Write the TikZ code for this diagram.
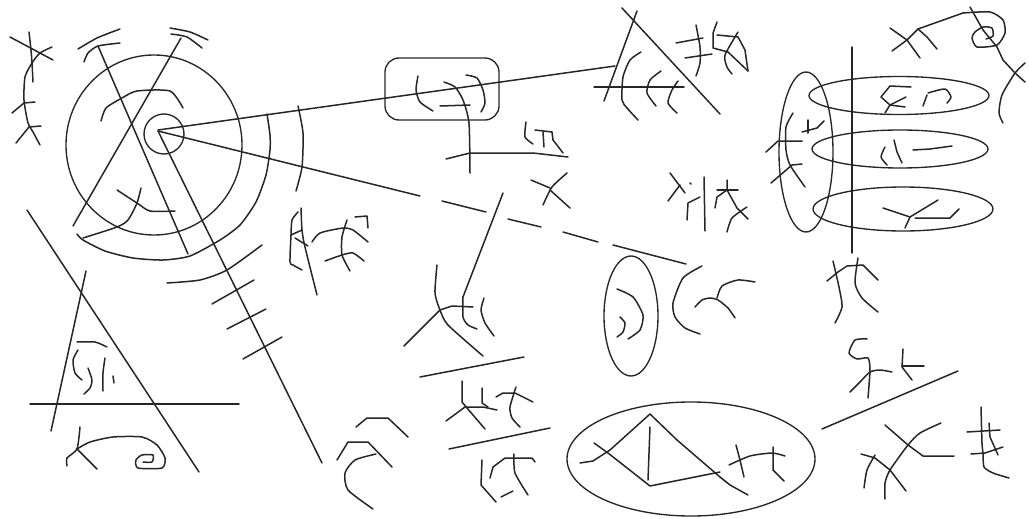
\documentclass[tikz,border=0pt]{standalone}
\usepackage{tikz}
\tikzset{
  ink/.style={line width=1.5pt, color=black!85, line cap=round, line join=round},
  frame/.style={ink, line width=1.35pt},
}
\newcommand{\wob}[1]{\draw[ink] plot[smooth, tension=0.4] coordinates {#1};}
\newcommand{\pol}[1]{\draw[ink] plot coordinates {#1};}
\newcommand{\stk}[2]{\draw[ink] #1 -- #2;}
\begin{document}
\begin{tikzpicture}[x=1pt, y=-1pt]
  \useasboundingbox (0,0) rectangle (1029,519);
  % Top left scribble
  \stk{(10,37)}{(53,60)}
  \wob{(29,32) (31,50) (32,63) (33,82)}
  \wob{(52,47) (40,53) (32,63) (25,77) (24,100) (28,123) (33,132) (40,145)}
  \pol{(12,113) (24,103) (35,102)}
  \pol{(16,143) (29,127) (41,126)}
  % Rings
  \draw[frame] (154,145) ellipse [x radius=88, y radius=90];
  \draw[frame] (164,134) circle [radius=20];
  \wob{(77,234) (83,240) (105,251) (133,258) (163,260) (190,256) (220,240) (240,225) (256,202) (266,175) (270,150) (270,135) (267,114)}
  \wob{(298,106) (303,133) (302,167) (296,191)}
  \wob{(167,283) (200,280) (227,270) (262,245)}
  \wob{(78,49) (97,38) (120,29)}
  \wob{(84,62) (88,53) (98,46) (120,43)}
  \wob{(170,28) (190,32) (208,40)}
  \wob{(171,34) (187,37) (202,48)}
  % Lines through the rings
  \stk{(98,46)}{(188,254)}
  \stk{(181,38)}{(73,226)}
  \stk{(158,131)}{(322,463)}
  \stk{(158,130)}{(615,66)}
  \stk{(158,131)}{(420,196)}
  \stk{(442,201)}{(486,212)}
  \stk{(508,219)}{(541,227)}
  \stk{(563,232)}{(598,242)}
  \stk{(613,245)}{(686,264)}
  \wob{(101,121) (106,108) (122,98) (137,91) (170,91) (183,108)}
  \wob{(117,190) (137,203) (150,211) (175,211)}
  \wob{(141,188) (137,203) (128,220) (117,227) (83,238)}
  \stk{(212,304)}{(254,280)}
  \stk{(227,329)}{(266,309)}
  \stk{(243,359)}{(282,337)}
  % Bottom left triangle
  \stk{(27,210)}{(199,472)}
  \stk{(86,271)}{(51,431)}
  \stk{(30,404)}{(239,404)}
  \wob{(77,342) (95,342) (107,347)}
  \wob{(78,350) (73,360) (75,373) (82,380)}
  \wob{(88,368) (92,380) (90,388) (84,394)}
  \wob{(105,358) (103,373) (103,391)}
  \stk{(113,376)}{(114,383)}
  \wob{(80,427) (77,449) (67,458) (67,466)}
  \stk{(77,449)}{(97,469)}
  \wob{(77,449) (90,442) (113,437) (142,437) (157,445) (165,458) (162,468) (138,468) (136,460) (142,455) (153,455) (152,462) (143,462)}
  % Scribble right of the rings
  \wob{(301,208) (302,230) (305,247) (317,295)}
  \wob{(298,212) (292,220) (291,235) (290,262) (293,265) (302,270)}
  \stk{(291,235)}{(302,230)}
  \stk{(295,238)}{(308,246)}
  \wob{(312,242) (320,233) (343,228) (353,230) (368,242)}
  \wob{(347,220) (342,237) (342,255) (350,271)}
  \wob{(325,261) (342,255) (353,253) (364,261)}
  \pol{(355,217) (367,216) (368,228)}
  % Rounded box
  \draw[frame, rounded corners=14pt] (385,58) rectangle (499,120);
  \wob{(418,76) (416,90) (420,102) (433,111)}
  \wob{(444,82) (455,87) (463,100) (469,123) (470,173)}
  \stk{(440,106)}{(470,105)}
  \wob{(466,75) (477,78) (483,90) (485,103) (481,112)}
  \pol{(446,159) (470,153) (533,153) (568,157)}
  \wob{(526,122) (525,137) (533,144)}
  \stk{(543,132)}{(544,147)}
  \pol{(535,130) (552,132) (553,140) (563,153)}
  \stk{(531,180)}{(550,188)}
  \wob{(567,173) (552,187) (543,205)}
  \stk{(550,190)}{(570,208)}
  % Top middle triangle
  \stk{(622,8)}{(720,114)}
  \stk{(637,11)}{(604,101)}
  \stk{(594,87)}{(684,87)}
  \wob{(641,52) (630,60) (623,77) (622,100) (627,108) (638,120)}
  \wob{(661,71) (650,80) (647,93) (656,106)}
  \wob{(678,81) (672,90) (668,103) (677,113)}
  \stk{(676,43)}{(703,38)}
  \stk{(685,58)}{(712,54)}
  \wob{(696,25) (700,47) (700,63) (696,76)}
  \pol{(717,22) (713,33) (713,48) (728,52) (748,71)}
  \pol{(717,35) (738,37) (745,50) (748,71)}
  \wob{(738,32) (725,55) (727,67) (732,74)}
  % Middle right scribble
  \stk{(670,173)}{(685,193)}
  \stk{(680,185)}{(668,201)}
  \stk{(690,183)}{(691,184)}
  \pol{(700,197) (688,203) (687,220)}
  \stk{(704,177)}{(705,231)}
  \pol{(727,180) (727,190) (717,197) (715,208)}
  \stk{(717,190)}{(738,190)}
  \pol{(727,190) (737,208) (748,219)}
  \wob{(747,207) (732,218) (727,232)}
  % Centre scribbles
  \stk{(503,193)}{(463,297)}
  \wob{(463,297) (463,317) (468,325) (477,329)}
  \wob{(437,265) (435,293) (440,310) (448,325) (483,356)}
  \pol{(404,346) (440,310) (452,306) (473,307)}
  \wob{(484,298) (481,310) (485,323) (494,336)}
  \stk{(420,377)}{(524,357)}
  \stk{(449,449)}{(550,428)}
  \pol{(462,381) (462,402) (467,408) (485,429)}
  \pol{(446,421) (465,407) (483,407) (497,410)}
  \pol{(482,388) (482,403) (488,407)}
  \pol{(496,397) (503,393) (515,393) (533,402)}
  \wob{(516,387) (510,407) (512,418) (520,427)}
  \pol{(482,460) (481,485) (496,502)}
  \pol{(490,478) (493,467) (505,458) (532,458) (535,462)}
  \wob{(514,454) (515,473) (528,495)}
  \stk{(501,497)}{(513,491)}
  \pol{(356,427) (367,418) (388,418) (408,437)}
  \pol{(337,460) (348,442) (368,442) (392,467)}
  \wob{(376,454) (355,460) (345,473) (348,490) (373,509)}
  % Tall ellipse
  \draw[frame] (631,316) ellipse [x radius=27, y radius=60];
  \wob{(617,289) (633,297) (643,315) (640,330) (628,339)}
  \wob{(620,317) (625,323) (623,332) (617,337)}
  \wob{(702,266) (683,278) (673,303) (675,317) (685,328) (700,334)}
  \wob{(695,307) (702,300) (710,298) (718,300) (728,308) (735,318)}
  \wob{(717,298) (722,286) (738,280) (755,282)}
  % Bottom ellipse
  \draw[frame] (691,459) ellipse [x radius=124, y radius=57];
  \pol{(580,463) (593,461) (610,450) (650,414) (677,440) (720,477) (730,485) (748,495)}
  \pol{(594,443) (608,453) (650,486) (720,472)}
  \stk{(650,427)}{(648,480)}
  \wob{(729,465) (750,456) (772,453) (785,456)}
  \pol{(736,445) (740,460) (744,477)}
  \pol{(773,447) (773,470) (784,481)}
  % Bottom right scribbles
  \wob{(867,339) (855,340) (849,353) (857,359) (868,358) (870,370) (868,398)}
  \wob{(850,392) (860,382) (870,372) (880,370) (892,372)}
  \pol{(903,349) (902,367) (912,380)}
  \stk{(902,366)}{(924,366)}
  \stk{(822,429)}{(958,371)}
  \pol{(885,425) (908,445) (923,456) (954,456)}
  \wob{(941,423) (920,433) (908,445) (890,470) (885,483) (885,499)}
  \pol{(861,454) (875,458) (890,470) (906,491)}
  \wob{(875,455) (867,470) (864,488)}
  \wob{(981,407) (982,443) (983,453) (984,467) (993,473) (1009,478)}
  \stk{(967,432)}{(1000,430)}
  \pol{(989,423) (990,437) (998,455)}
  \pol{(971,454) (985,453) (1003,447)}
  % Top right spiral
  \pol{(890,28) (907,40) (920,58)}
  \pol{(892,51) (907,40) (918,29) (963,13)}
  \wob{(963,13) (990,12) (1003,20) (1005,33) (997,45) (977,47) (972,38) (975,32) (983,27) (992,28) (993,36) (986,39)}
  \pol{(918,29) (927,37) (937,49)}
  \pol{(970,7) (983,30) (997,47) (1003,60) (1015,73) (1025,82)}
  \wob{(1025,63) (1015,73) (1002,95) (999,113) (1003,123)}
  % Right ellipses on the vertical line
  \stk{(852,47)}{(852,253)}
  \draw[frame] (806,152) ellipse [x radius=27, y radius=80];
  \draw[frame] (899,95.5) ellipse [x radius=90, y radius=19];
  \draw[frame] (900,149) ellipse [x radius=88, y radius=19];
  \draw[frame] (903,209) ellipse [x radius=90, y radius=22];
  \pol{(911,87) (890,86) (881,97) (890,105) (905,107)}
  \pol{(906,97) (890,105) (885,113)}
  \stk{(927,95)}{(923,106)}
  \wob{(928,93) (945,89) (951,97) (947,103)}
  \wob{(885,147) (881,157) (887,165)}
  \pol{(894,140) (897,152) (902,163)}
  \pol{(913,150) (930,149) (952,146)}
  \pol{(883,208) (910,217) (938,200)}
  \stk{(910,217)}{(905,228)}
  \pol{(915,218) (950,218) (959,209)}
  \wob{(793,113) (786,127) (786,150) (790,165) (805,187)}
  \pol{(766,152) (778,141) (802,141)}
  \pol{(771,183) (792,165) (802,164)}
  \stk{(808,120)}{(808,133)}
  \pol{(802,132) (817,128) (824,121)}
  \wob{(833,261) (839,287) (842,307) (835,323)}
  \pol{(827,281) (838,272) (847,266) (863,265) (878,280)}
  \wob{(858,258) (855,283) (862,298) (878,312)}
\end{tikzpicture}
\end{document}
